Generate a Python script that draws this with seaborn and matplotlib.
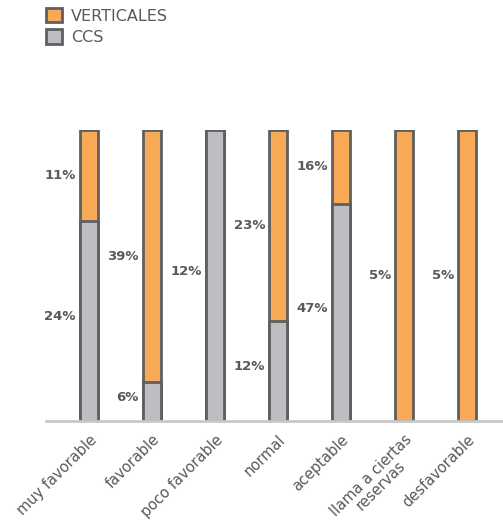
import matplotlib
matplotlib.use("Agg")
import matplotlib.pyplot as plt
import seaborn as sns
import pandas as pd
from matplotlib.patches import Patch

categories = ["muy favorable", "favorable", "poco favorable", "normal",
              "aceptable", "llama a ciertas\nreservas", "desfavorable"]
ccs = [24, 6, 12, 12, 47, 0, 0]
verticales = [11, 39, 0, 23, 16, 5, 5]

ORANGE = "#F7A956"
GRAY = "#BDBEC1"
EDGE = "#5F5F5F"
TXT = "#595959"

sns.set_theme(style="white")
plt.rcParams['font.family'] = ['DejaVu Sans']

df = pd.DataFrame({"cat": categories, "ccs": ccs, "vert": verticales})
df["total"] = df["ccs"] + df["vert"]
df["ccs_frac"] = df["ccs"] / df["total"]
df["full"] = 1.0

fig = plt.figure(figsize=(5.03, 5.30), dpi=100)
ax = fig.add_axes([0.0915, 0.2057, 0.9085, 0.549])

sns.barplot(data=df, x="cat", y="full", color=ORANGE, width=0.29,
            edgecolor=EDGE, linewidth=2.0, saturation=1, ax=ax)
sns.barplot(data=df, x="cat", y="ccs_frac", color=GRAY, width=0.29,
            edgecolor=EDGE, linewidth=2.0, saturation=1, ax=ax)

for i, row in df.iterrows():
    xl = i - 0.29 / 2 - 0.06
    f = row["ccs_frac"]
    if row["vert"] > 0:
        ax.text(xl, f + (1 - f) / 2, f"{row['vert']}%", ha="right", va="center",
                fontsize=9.5, fontweight="bold", color=TXT)
    if row["ccs"] > 0:
        ax.text(xl, f / 2 + 0.015, f"{row['ccs']}%", ha="right", va="center",
                fontsize=9.5, fontweight="bold", color=TXT)

ax.set_xlim(-0.68, 6.57)
ax.set_ylim(0, 1.0)
ax.set_xlabel("")
ax.set_ylabel("")
ax.set_yticks([])
for s in ["top", "right", "left"]:
    ax.spines[s].set_visible(False)
ax.spines["bottom"].set_color("#C8C8C8")
ax.spines["bottom"].set_linewidth(2)
ax.tick_params(axis="x", length=0, pad=8)
ax.set_xticks(range(len(categories)))
ax.set_xticklabels(categories, rotation=45, ha="right", rotation_mode="anchor",
                   fontsize=10.5, color=TXT, multialignment="center",
                   linespacing=0.95)

handles = [Patch(facecolor=ORANGE, edgecolor=EDGE, linewidth=2, label="VERTICALES"),
           Patch(facecolor=GRAY, edgecolor=EDGE, linewidth=2, label="CCS")]
leg = fig.legend(handles=handles, loc="upper left", bbox_to_anchor=(0.063, 1.012),
                 frameon=False, fontsize=11.5, handlelength=1.0, handleheight=1.0,
                 handletextpad=0.55, labelspacing=0.35, labelcolor=TXT)

fig.savefig("out.png", dpi=100)
